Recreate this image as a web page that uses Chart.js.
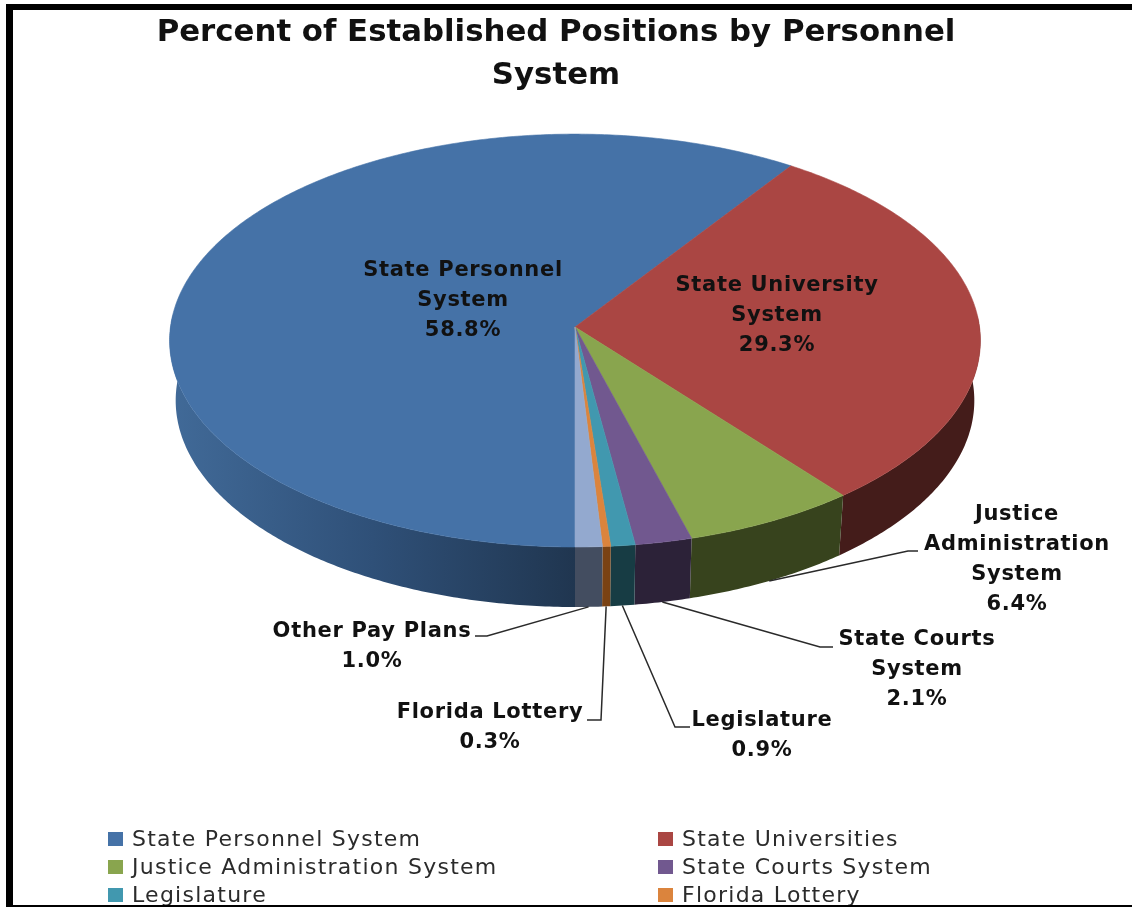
<!DOCTYPE html>
<html>
<head>
<meta charset="utf-8">
<title>Percent of Established Positions by Personnel System</title>
<script src="https://cdn.jsdelivr.net/npm/chart.js@4"></script>
<style>
  html, body { margin: 0; padding: 0; background: #fff; overflow: hidden; }
  canvas { display: block; }
</style>
</head>
<body>
<canvas id="pieChart" width="1132" height="907"></canvas>
<script>
// Data
const categories = ['State Personnel System', 'State Universities', 'Justice Administration System',
  'State Courts System', 'Legislature', 'Florida Lottery', 'Other Pay Plans'];
const percents = [58.8, 29.3, 6.4, 2.1, 0.9, 0.3, 1.0];
const sliceNames = [['State Personnel', 'System'], ['State University', 'System'],
  ['Justice', 'Administration', 'System'], ['State Courts', 'System'],
  ['Legislature'], ['Florida Lottery'], ['Other Pay Plans']];

// Styles
const topColors = ['#4572a7', '#aa4643', '#89a54e', '#71588f', '#4198af', '#db843d', '#93a9cf'];
const wallColors = [null, '#441c1a', '#37431d', '#2c2238', '#173c44', '#7a4213', '#434d60'];
const FONT = '"DejaVu Sans"';

// Look of the tilted disc
const stretchX = 1.968;    // ellipse width over height
const tilt = 0.0654;       // perspective strength
const shiftX = 19;         // the pie sits right of the title centre
const depth = 60;
const baseShrink = 0.985;

// Where the label text goes: centre x, y of the first line, then the elbow of the leader line
const labelSpots = [
  { x: 463, y: 271 },
  { x: 777, y: 286 },
  { x: 1017, y: 515, elbow: [908, 551], end: [918, 551] },
  { x: 917, y: 640, elbow: [820, 647], end: [833, 647] },
  { x: 762, y: 721, elbow: [675, 727], end: [690, 727] },
  { x: 490, y: 713, elbow: [601, 720], end: [587, 720] },
  { x: 372, y: 632, elbow: [487, 636], end: [475, 636] }
];

function rimPoint(el, angle) {
  const u = Math.cos(angle), v = Math.sin(angle);
  const w = 1 - tilt * v;
  return {
    x: el.x + shiftX + stretchX * el.outerRadius * u / w,
    y: el.y + el.outerRadius * v / w
  };
}

function basePoint(el, angle) {
  const p = rimPoint(el, angle);
  const cx = el.x + shiftX;
  return { x: cx + (p.x - cx) * baseShrink, y: p.y + depth };
}

function sampleAngles(a0, a1) {
  const n = Math.max(2, Math.ceil((a1 - a0) / 0.01));
  const out = [];
  for (let i = 0; i <= n; i++) out.push(a0 + (a1 - a0) * i / n);
  return out;
}

function drawWall(ctx, el, i) {
  const angles = sampleAngles(el.startAngle, el.endAngle).filter(a => Math.sin(a) > -0.06);
  if (!angles.length) return;
  let fill = wallColors[i];
  if (!fill) {
    const left = rimPoint(el, Math.PI).x;
    fill = ctx.createLinearGradient(left, 0, el.x + shiftX, 0);
    fill.addColorStop(0, '#416a98');
    fill.addColorStop(0.5, '#2f5078');
    fill.addColorStop(1, '#203650');
  }
  ctx.beginPath();
  angles.forEach((a, k) => {
    const p = rimPoint(el, a);
    k ? ctx.lineTo(p.x, p.y) : ctx.moveTo(p.x, p.y);
  });
  angles.slice().reverse().forEach(a => {
    const p = basePoint(el, a);
    ctx.lineTo(p.x, p.y);
  });
  ctx.closePath();
  ctx.fillStyle = fill;
  ctx.fill();
}

function drawTop(ctx, el, i) {
  ctx.beginPath();
  ctx.moveTo(el.x + shiftX, el.y);
  sampleAngles(el.startAngle, el.endAngle).forEach(a => {
    const p = rimPoint(el, a);
    ctx.lineTo(p.x, p.y);
  });
  ctx.closePath();
  ctx.fillStyle = topColors[i];
  ctx.strokeStyle = topColors[i];
  ctx.lineWidth = 0.6;
  ctx.fill();
  ctx.stroke();
}

const tiltedPie = {
  id: 'tiltedPie',
  // the arcs keep their angles and radius from Chart.js, only the painting changes
  beforeDatasetDraw(chart) {
    const ctx = chart.ctx;
    const arcs = chart.getDatasetMeta(0).data;
    ctx.save();
    arcs.forEach((el, i) => drawWall(ctx, el, i));
    arcs.forEach((el, i) => drawTop(ctx, el, i));
    ctx.restore();
    return false;
  },
  afterDraw(chart) {
    const ctx = chart.ctx;
    const arcs = chart.getDatasetMeta(0).data;
    ctx.save();

    // leader lines
    ctx.strokeStyle = '#2a2a2a';
    ctx.lineWidth = 1.5;
    arcs.forEach((el, i) => {
      const spot = labelSpots[i];
      if (!spot.elbow) return;
      const p = basePoint(el, (el.startAngle + el.endAngle) / 2);
      ctx.beginPath();
      ctx.moveTo(p.x, p.y);
      ctx.lineTo(spot.elbow[0], spot.elbow[1]);
      ctx.lineTo(spot.end[0], spot.end[1]);
      ctx.stroke();
    });

    // slice labels
    ctx.fillStyle = '#111';
    ctx.font = 'bold 21px ' + FONT;
    ctx.letterSpacing = '0.7px';
    ctx.textAlign = 'center';
    ctx.textBaseline = 'middle';
    percents.forEach((val, i) => {
      const lines = sliceNames[i].concat(val.toFixed(1) + '%');
      lines.forEach((txt, k) => {
        ctx.fillText(txt, labelSpots[i].x, labelSpots[i].y + k * 30);
      });
    });

    // legend, two columns, the last row falls off the page
    const rowY = [840, 868, 896];
    const colX = [108, 658];
    ctx.textAlign = 'left';
    ctx.font = '22px ' + FONT;
    ctx.letterSpacing = '1.25px';
    categories.slice(0, 6).forEach((name, i) => {
      const x = colX[i % 2], y = rowY[Math.floor(i / 2)];
      ctx.fillStyle = topColors[i];
      ctx.fillRect(x, y - 8, 15, 14);
      ctx.fillStyle = '#2b2b2b';
      ctx.fillText(name, x + 24, y);
    });
    ctx.letterSpacing = '0px';

    // black frame of the picture
    ctx.fillStyle = '#000';
    ctx.fillRect(6, 4, chart.width - 6, 6);
    ctx.fillRect(6, 4, 7, chart.height - 4);
    ctx.fillRect(6, chart.height - 2, chart.width - 6, 2);
    ctx.restore();
  }
};

new Chart(document.getElementById('pieChart'), {
  type: 'pie',
  data: {
    labels: categories,
    datasets: [{
      data: percents,
      backgroundColor: topColors,
      borderWidth: 0
    }]
  },
  options: {
    responsive: false,
    animation: false,
    rotation: 180,
    layout: { padding: { top: 0, left: 0, right: 20, bottom: 374.4 } },
    plugins: {
      legend: { display: false },
      tooltip: { enabled: false },
      title: {
        display: true,
        text: ['Percent of Established Positions by Personnel', 'System'],
        color: '#111',
        font: { family: FONT, size: 30.8, weight: 'bold', lineHeight: 1.396 },
        padding: { top: 11.5, bottom: 24 }
      }
    }
  },
  plugins: [tiltedPie]
});
</script>
</body>
</html>
